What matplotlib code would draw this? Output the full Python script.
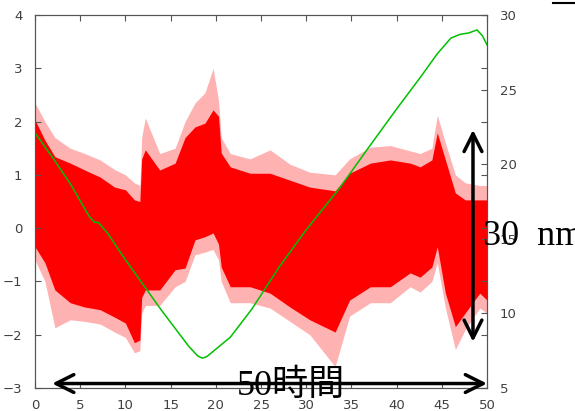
'''
Noisy signal (red, left axis) with a drift trace (green, right axis), gnuplot look
'''

from matplotlib import pyplot as plt
from matplotlib.lines import Line2D

# red cloud: envelope of the dense band and of the sparse outliers
cloud_x = [0, 1.1, 2.2, 3.9, 5.5, 7.2, 8.8, 10, 11, 11.6, 11.8, 12.2, 13.8,
           15.5, 16.6, 17.7, 18.8, 19.7, 20.3, 20.6, 21.6, 23.8, 26, 28.2,
           30.4, 33.2, 34.8, 37.1, 39.3, 41.5, 42.6, 43.9, 44.5, 45.4, 46.5,
           47.6, 49.2, 50]
core_hi = [2.03, 1.65, 1.34, 1.22, 1.09, 0.96, 0.77, 0.72, 0.53, 0.5, 1.3,
           1.47, 1.09, 1.22, 1.7, 1.9, 1.97, 2.22, 2.1, 1.41, 1.15, 1.03,
           1.03, 0.9, 0.77, 0.7, 1.03, 1.22, 1.28, 1.22, 1.15, 1.28, 1.79,
           1.28, 0.66, 0.53, 0.53, 0.53]
core_lo = [-0.35, -0.65, -1.16, -1.40, -1.48, -1.53, -1.67, -1.78, -2.15,
           -2.1, -1.3, -1.16, -1.16, -0.78, -0.75, -0.22, -0.16, -0.09, -0.3,
           -0.73, -1.10, -1.10, -1.22, -1.48, -1.72, -1.95, -1.35, -1.10,
           -1.10, -0.84, -0.92, -0.73, -0.35, -1.22, -1.85, -1.59, -1.22,
           -1.35]
outer_hi = [2.35, 2.0, 1.7, 1.5, 1.4, 1.28, 1.1, 1.0, 0.85, 0.8, 1.7, 2.07,
            1.4, 1.5, 2.0, 2.35, 2.54, 3.0, 2.4, 1.7, 1.4, 1.3, 1.47, 1.2,
            1.05, 1.0, 1.3, 1.52, 1.55, 1.45, 1.4, 1.5, 2.12, 1.6, 1.0, 0.85,
            0.8, 0.8]
outer_lo = [-0.6, -1.0, -1.87, -1.72, -1.75, -1.8, -1.95, -2.05, -2.34, -2.3,
            -1.6, -1.45, -1.45, -1.1, -1.0, -0.5, -0.45, -0.4, -0.6, -1.0,
            -1.4, -1.4, -1.5, -1.75, -2.0, -2.6, -1.65, -1.4, -1.4, -1.1,
            -1.2, -1.0, -0.65, -1.5, -2.28, -1.9, -1.5, -1.6]

# green trace on the right axis
trace_x = [0, 2, 4, 6, 6.6, 7.0, 8, 10, 12, 14, 16, 17, 18, 18.5, 19, 20,
           21.6, 24, 27, 30, 33.7, 37, 40, 42.6, 44.5, 45.5, 46, 47, 48,
           48.9, 49.5, 50]
trace_y = [22.1, 20.4, 18.6, 16.5, 16.1, 16.1, 15.4, 13.6, 11.9, 10.2, 8.6,
           7.8, 7.15, 7.0, 7.1, 7.6, 8.4, 10.3, 13.1, 15.6, 18.4, 21.2, 23.7,
           25.8, 27.4, 28.1, 28.45, 28.7, 28.8, 29.0, 28.6, 28.0]

x_ticks = list(range(0, 51, 5))
left_ticks = list(range(-3, 5))
right_ticks = list(range(5, 31, 5))

grey = '#404040'

fig = plt.figure(figsize=(5.75, 4.11), dpi=100)
ax = fig.add_axes([35 / 575, 1 - 388 / 411, 452 / 575, 373 / 411])
ax2 = ax.twinx()

ax.fill_between(cloud_x, outer_lo, outer_hi, color='#ff0000', alpha=0.3,
                lw=0)
ax.fill_between(cloud_x, core_lo, core_hi, color='#ff0000', lw=0)
ax2.plot(trace_x, trace_y, color='#00c000', lw=1.1)

ax.set_xlim(0, 50)
ax.set_ylim(-3, 4)
ax2.set_ylim(5, 30)
ax.set_xticks(x_ticks)
ax.set_yticks(left_ticks)
ax2.set_yticks(right_ticks)

for a in (ax, ax2):
    for s in a.spines.values():
        s.set_color('#555555')
        s.set_linewidth(0.8)
ax.tick_params(direction='in', top=True, right=True, length=4, width=0.8,
               color='#555555', labelcolor=grey, labelsize=9.5, pad=8)
ax.tick_params(axis='y', pad=9)
ax2.tick_params(direction='in', length=4, width=0.8, color='#555555',
                labelcolor=grey, labelsize=9.5, pad=9)

# annotations: double arrows and labels
arrow = dict(arrowstyle='<->', lw=2.5, color='black', mutation_scale=32,
             shrinkA=0, shrinkB=0)
ax2.annotate('', xy=(50, 5.3), xytext=(1.9, 5.3), xycoords=('data', 'data'),
             arrowprops=arrow, annotation_clip=False)
ax2.annotate('', xy=(48.45, 22.3), xytext=(48.45, 8.1), arrowprops=arrow,
             annotation_clip=False)

fig.text(237 / 575, 1 - 395 / 411, '50時間', fontsize=26,
         family=['Liberation Serif', 'Noto Sans CJK JP'], va='baseline')
fig.text(483 / 575, 1 - 245 / 411, '30  nm', fontsize=26,
         family=['Liberation Serif', 'Noto Sans CJK JP'], va='baseline')

fig.add_artist(Line2D([553 / 575, 1.0], [1 - 3 / 411, 1 - 3 / 411],
                      color='black', lw=1.5))

fig.savefig('out.png', dpi=100)
